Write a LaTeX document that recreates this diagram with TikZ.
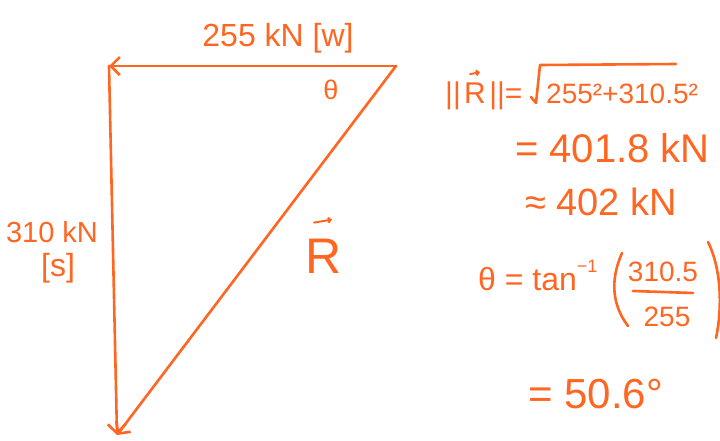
\documentclass[tikz,border=0pt]{standalone}
\usepackage{fontspec}
\setmainfont{Liberation Sans}
\usetikzlibrary{arrows.meta}
\definecolor{ink}{HTML}{FF6622}
\newcommand{\fs}[1]{\fontsize{#1}{#1}\selectfont}
\begin{document}
\begin{tikzpicture}[x=1pt,y=-1pt,
  inkline/.style={draw=ink, line width=2.6pt, line cap=round, line join=round},
  vecline/.style={inkline, -{Straight Barb[length=9pt,width=18pt]}},
  hook/.style={draw=ink, line width=2pt, line cap=round, -{Straight Barb[length=2.5pt,width=5pt]}},
  lbl/.style={text=ink, inner sep=0pt},
]
\useasboundingbox[fill=white] (0,0) rectangle (720,440);

% triangle
\coordinate (A) at (396,66);
\coordinate (B) at (109,66);
\coordinate (C) at (117,435);
\draw[vecline] (A) -- (B);
\draw[vecline] (B) -- (C);
\draw[vecline] (A) -- (C);

% labels on the triangle
\node[lbl, font=\fs{32}] (top) at (278,38) {255 kN [w]};
\node[lbl, font=\fs{27}] (th1) at (331,90) {θ};
\node[lbl, font=\fs{29}] (side1) at (52,232) {310 kN};
\node[lbl, font=\fs{32}] (side2) at (58,268) {[s]};
\node[lbl, font=\fs{50}] (R) at (324,256) {R};
\draw[hook] ([shift={(-10,-16)}]R.north) -- ([shift={(8,-19)}]R.north);

% magnitude
\node[lbl, font=\fs{30}, anchor=base west] (n1) at (445,103) {||};
\node[lbl, font=\fs{30}, anchor=base west] (nR) at ([xshift=3pt]n1.base east) {R};
\node[lbl, font=\fs{30}, anchor=base west] (n2) at ([xshift=3pt]nR.base east) {||=};
\draw[hook] ([shift={(-5,-8)}]nR.north) -- ([shift={(5,-10)}]nR.north);
\node[lbl, font=\fs{28}, anchor=base west] (rad) at (546,103) {255²+310.5²};
\draw[inkline] ([shift={(-15,-6)}]rad.base west) -- ([shift={(-10,0)}]rad.base west)
  -- ([shift={(-6,-38)}]rad.base west) -- ([shift={(130,-39)}]rad.base west);
\node[lbl, font=\fs{40}, anchor=base west] (eq2) at (515,162) {= 401.8 kN};
\node[lbl, font=\fs{38}, anchor=base west] (eq3) at (525,215) {≈ 402 kN};

% angle
\node[lbl, font=\fs{32}, anchor=base west] (eq4) at (478,290) {θ = tan\raisebox{0.55em}{\fs{18}−1}};
\node[lbl, font=\fs{28}] (num) at (663,272) {310.5};
\node[lbl, font=\fs{28}] (den) at (667,317) {255};
\coordinate (barL) at (633,291);
\coordinate (barR) at (693,293);
\draw[inkline] (barL) -- (barR);
\coordinate (lp1) at (622,253);
\coordinate (lp2) at (628,326);
\draw[inkline] (lp1) .. controls (610,280) and (612,305) .. (lp2);
\coordinate (rp1) at (708,242);
\coordinate (rp2) at (716,338);
\draw[inkline] (rp1) .. controls (722,270) and (722,310) .. (rp2);
\node[lbl, font=\fs{42}, anchor=base west] (eq5) at (528,408) {= 50.6°};
\end{tikzpicture}
\end{document}
